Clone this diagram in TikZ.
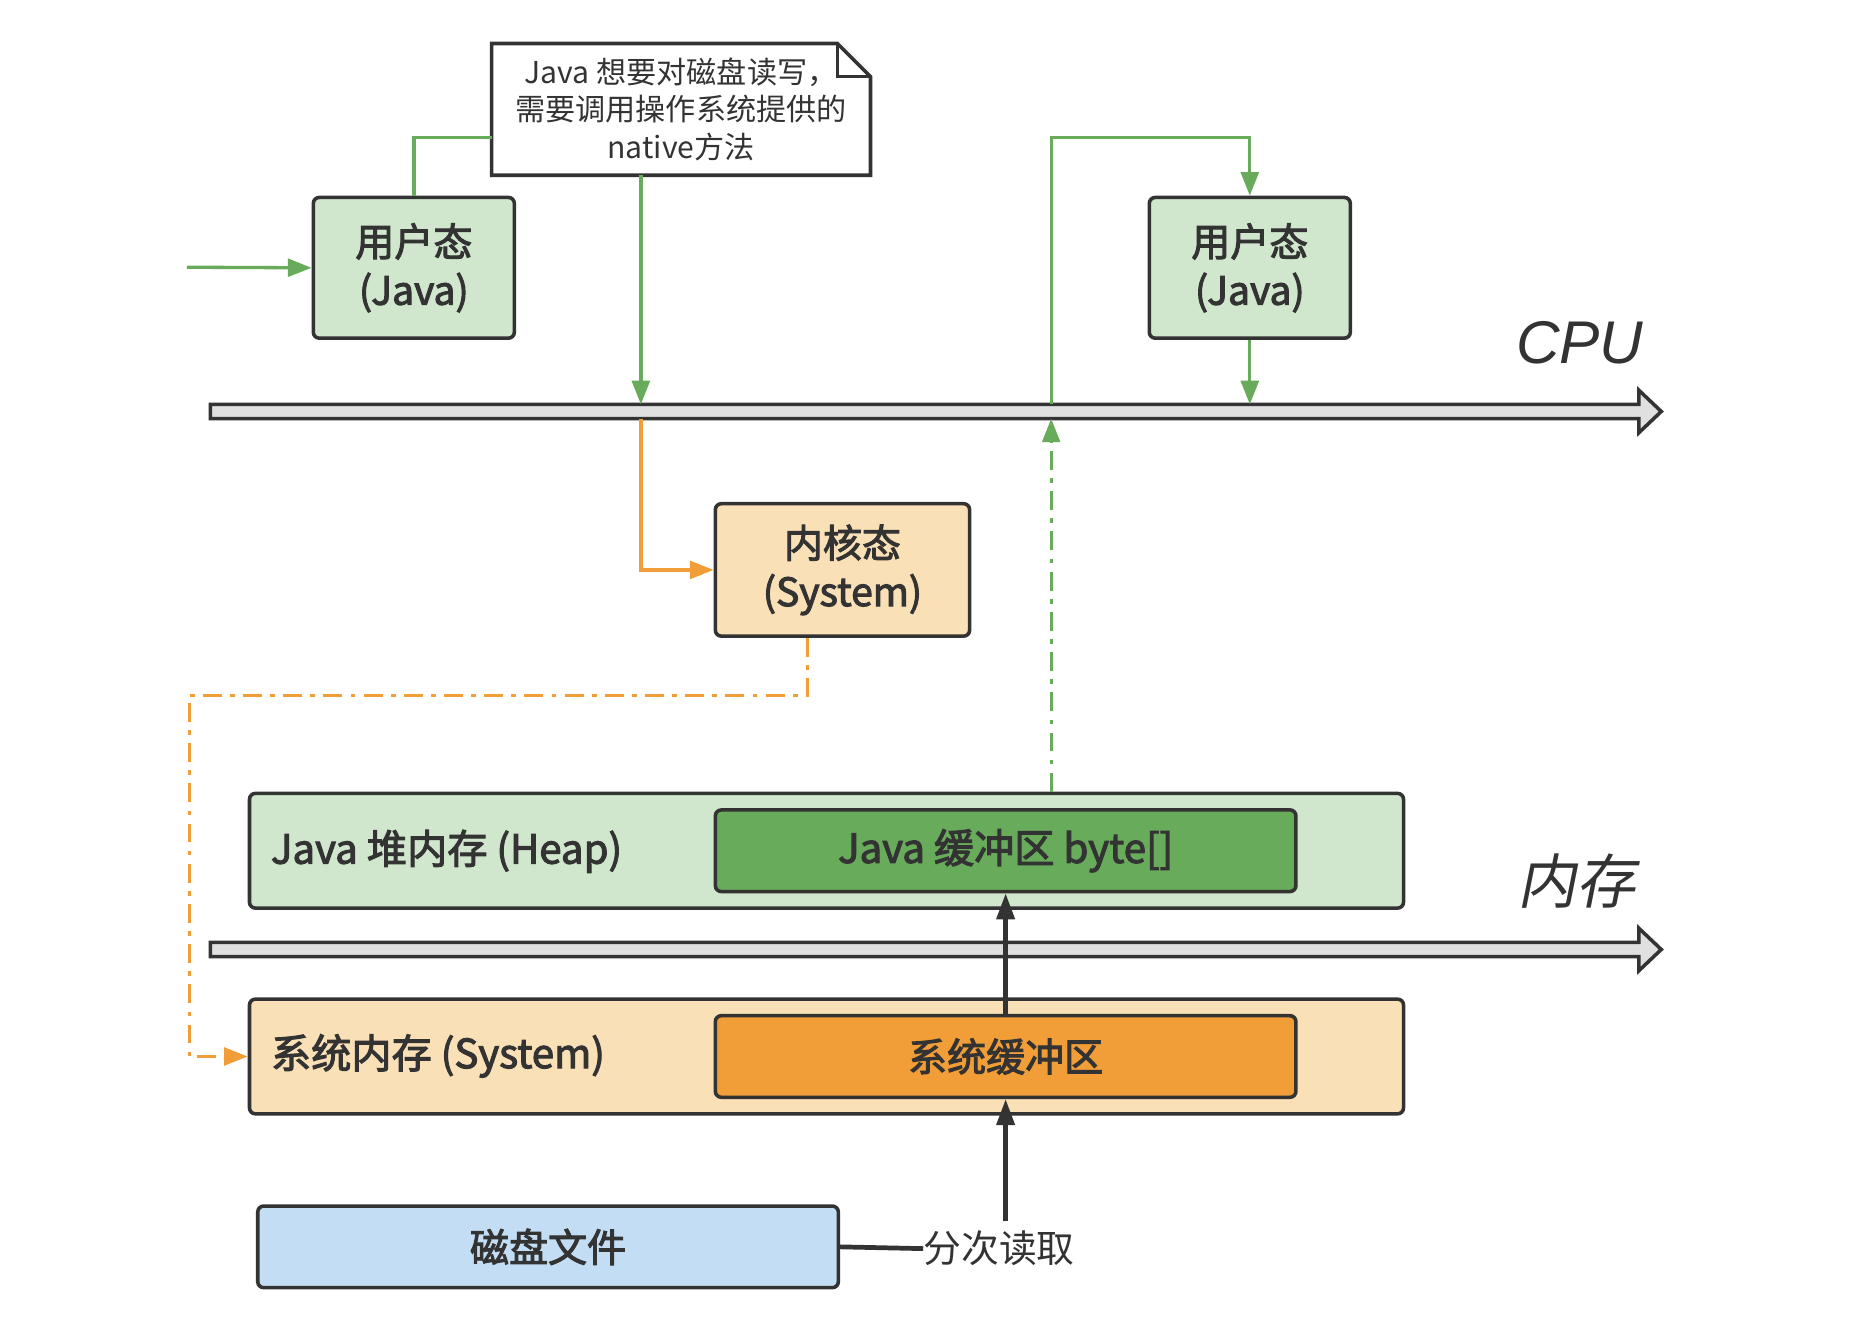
\documentclass[tikz,border=0pt]{standalone}
\usepackage{fontspec}
\setmainfont{Noto Sans CJK SC}
\newfontfamily\latinfont{Liberation Sans}
\newfontfamily\cjkslant[FakeSlant=0.2]{Noto Sans CJK SC}
\newfontfamily\boxfont[FakeBold=2.6]{Noto Sans CJK SC}
\usetikzlibrary{arrows.meta,calc}
\definecolor{dk}{HTML}{333333}
\definecolor{grn}{HTML}{67AB5B}
\definecolor{lgrn}{HTML}{D0E6CD}
\definecolor{dgrn}{HTML}{67AB5B}
\definecolor{lorg}{HTML}{F9E0B7}
\definecolor{org}{HTML}{F19D38}
\definecolor{lblue}{HTML}{C3DDF5}
\definecolor{agray}{HTML}{E0E0E0}
\tikzset{
  box/.style={draw=dk, line width=3pt, rounded corners=5pt, inner sep=0pt, align=center, text=dk,
    font=\boxfont\fontsize{33}{41}\selectfont},
  notebox/.style={inner sep=0pt, align=center, text=dk, font=\fontsize{25.5}{32}\selectfont},
  gline/.style={draw=grn, line width=2.8pt},
  garrow/.style={gline, -{Triangle[length=20pt,width=15pt]}},
  gdash/.style={garrow, dash pattern=on 16pt off 7pt on 4pt off 7pt},
  oarrow/.style={draw=org, line width=2.8pt, -{Triangle[length=20pt,width=15pt]}},
  odash/.style={oarrow, dash pattern=on 16pt off 7pt on 4pt off 7pt},
  karrow/.style={draw=dk, line width=4pt, -{Triangle[length=22pt,width=15pt]}},
  bigarrow/.style={draw=dk, fill=agray, line width=3pt, line join=miter},
  plain/.style={inner sep=0pt, text=dk}
}
\begin{document}
\begin{tikzpicture}[x=1pt,y=-1pt]
\useasboundingbox (0,0) rectangle (1568,1130);

% big axis arrows
\draw[bigarrow] (178,342) -- (1386,342) -- (1386,330) -- (1405,348) -- (1386,366) -- (1386,354) -- (178,354) -- cycle;
\draw[bigarrow] (178,797) -- (1386,797) -- (1386,785) -- (1405,803) -- (1386,821) -- (1386,809) -- (178,809) -- cycle;
\node[plain, font=\latinfont\itshape\fontsize{51}{51}\selectfont] (cpu) at (1336,290) {CPU};
\node[plain, font=\cjkslant\fontsize{50}{50}\selectfont] (mem) at (1333,745) {内存};

% named points on the axes
\coordinate (cpuA) at (542,342);
\coordinate (cpuAb) at (542,354);
\coordinate (cpuB) at (889,354);
\coordinate (cpuBt) at (889,342);
\coordinate (cpuC) at (1057,342);
\coordinate (start) at (158,226);

% nodes
\node[box, fill=lgrn, minimum width=170pt, minimum height=119pt] (u1) at (350,226.5) {用户态\\(Java)};
\node[box, fill=lgrn, minimum width=170pt, minimum height=119pt] (u2) at (1057,226.5) {用户态\\(Java)};
\node[notebox, minimum width=320pt, minimum height=111pt] (note) at (576,92.5) {Java 想要对磁盘读写，\\需要调用操作系统提供的\\native方法};
\draw[draw=dk, line width=3pt, line join=miter] (note.south west) -- (note.north west) -- ($(note.north east)+(-28,0)$) -- ($(note.north east)+(0,28)$) -- (note.south east) -- cycle;
\draw[draw=dk, line width=2.5pt, line join=miter] ($(note.north east)+(-28,0)$) -- ($(note.north east)+(-28,28)$) -- ($(note.north east)+(0,28)$);

\node[box, fill=lorg, minimum width=215pt, minimum height=112pt] (kern) at (712.5,482) {内核态\\(System)};

\node[box, fill=lgrn, minimum width=976pt, minimum height=97pt] (heap) at (699,719.5) {};
\node[plain, anchor=west, font=\boxfont\fontsize{34}{34}\selectfont] (heaplbl) at (229,720) {Java 堆内存 (Heap)};
\node[box, fill=dgrn, minimum width=491pt, minimum height=69pt, font=\boxfont\fontsize{34}{34}\selectfont] (jbuf) at (850.5,719.5) {Java 缓冲区 byte[]};

\node[box, fill=lorg, minimum width=976pt, minimum height=97pt] (sysmem) at (699,893.5) {};
\node[plain, anchor=west, font=\boxfont\fontsize{34}{34}\selectfont] (syslbl) at (229,893) {系统内存 (System)};
\node[box, fill=org, minimum width=491pt, minimum height=69pt] (sbuf) at (850.5,893.5) {系统缓冲区};

\node[box, fill=lblue, minimum width=491pt, minimum height=69pt] (disk) at (463.5,1054.5) {磁盘文件};
\node[plain, font=\fontsize{32}{32}\selectfont] (read) at (845,1056) {分次读取};

% connectors
\draw[garrow] (start) -- (u1.west);
\draw[gline] (u1.north) |- ($(note.south west)+(0,-32)$);
\draw[garrow] (note.south -| cpuA) -- (cpuA);
\draw[oarrow] (cpuAb) |- (kern.west);
\draw[odash] ($(kern.south)+(-29.5,0)$) |- (160,588) |- (sysmem.west);
\draw[gdash] (heap.north -| cpuB) -- (cpuB);
\draw[garrow] (cpuBt) -- (889,116) -| (u2.north);
\draw[garrow] (u2.south) -- (cpuC);
\draw[karrow] (sbuf.north -| jbuf.south) -- (jbuf.south);
\draw[karrow] ($(read.north -| sbuf.south)+(0,-8)$) -- (sbuf.south);
\draw[draw=dk, line width=4pt] (disk.east) -- (read.west);
\end{tikzpicture}
\end{document}
